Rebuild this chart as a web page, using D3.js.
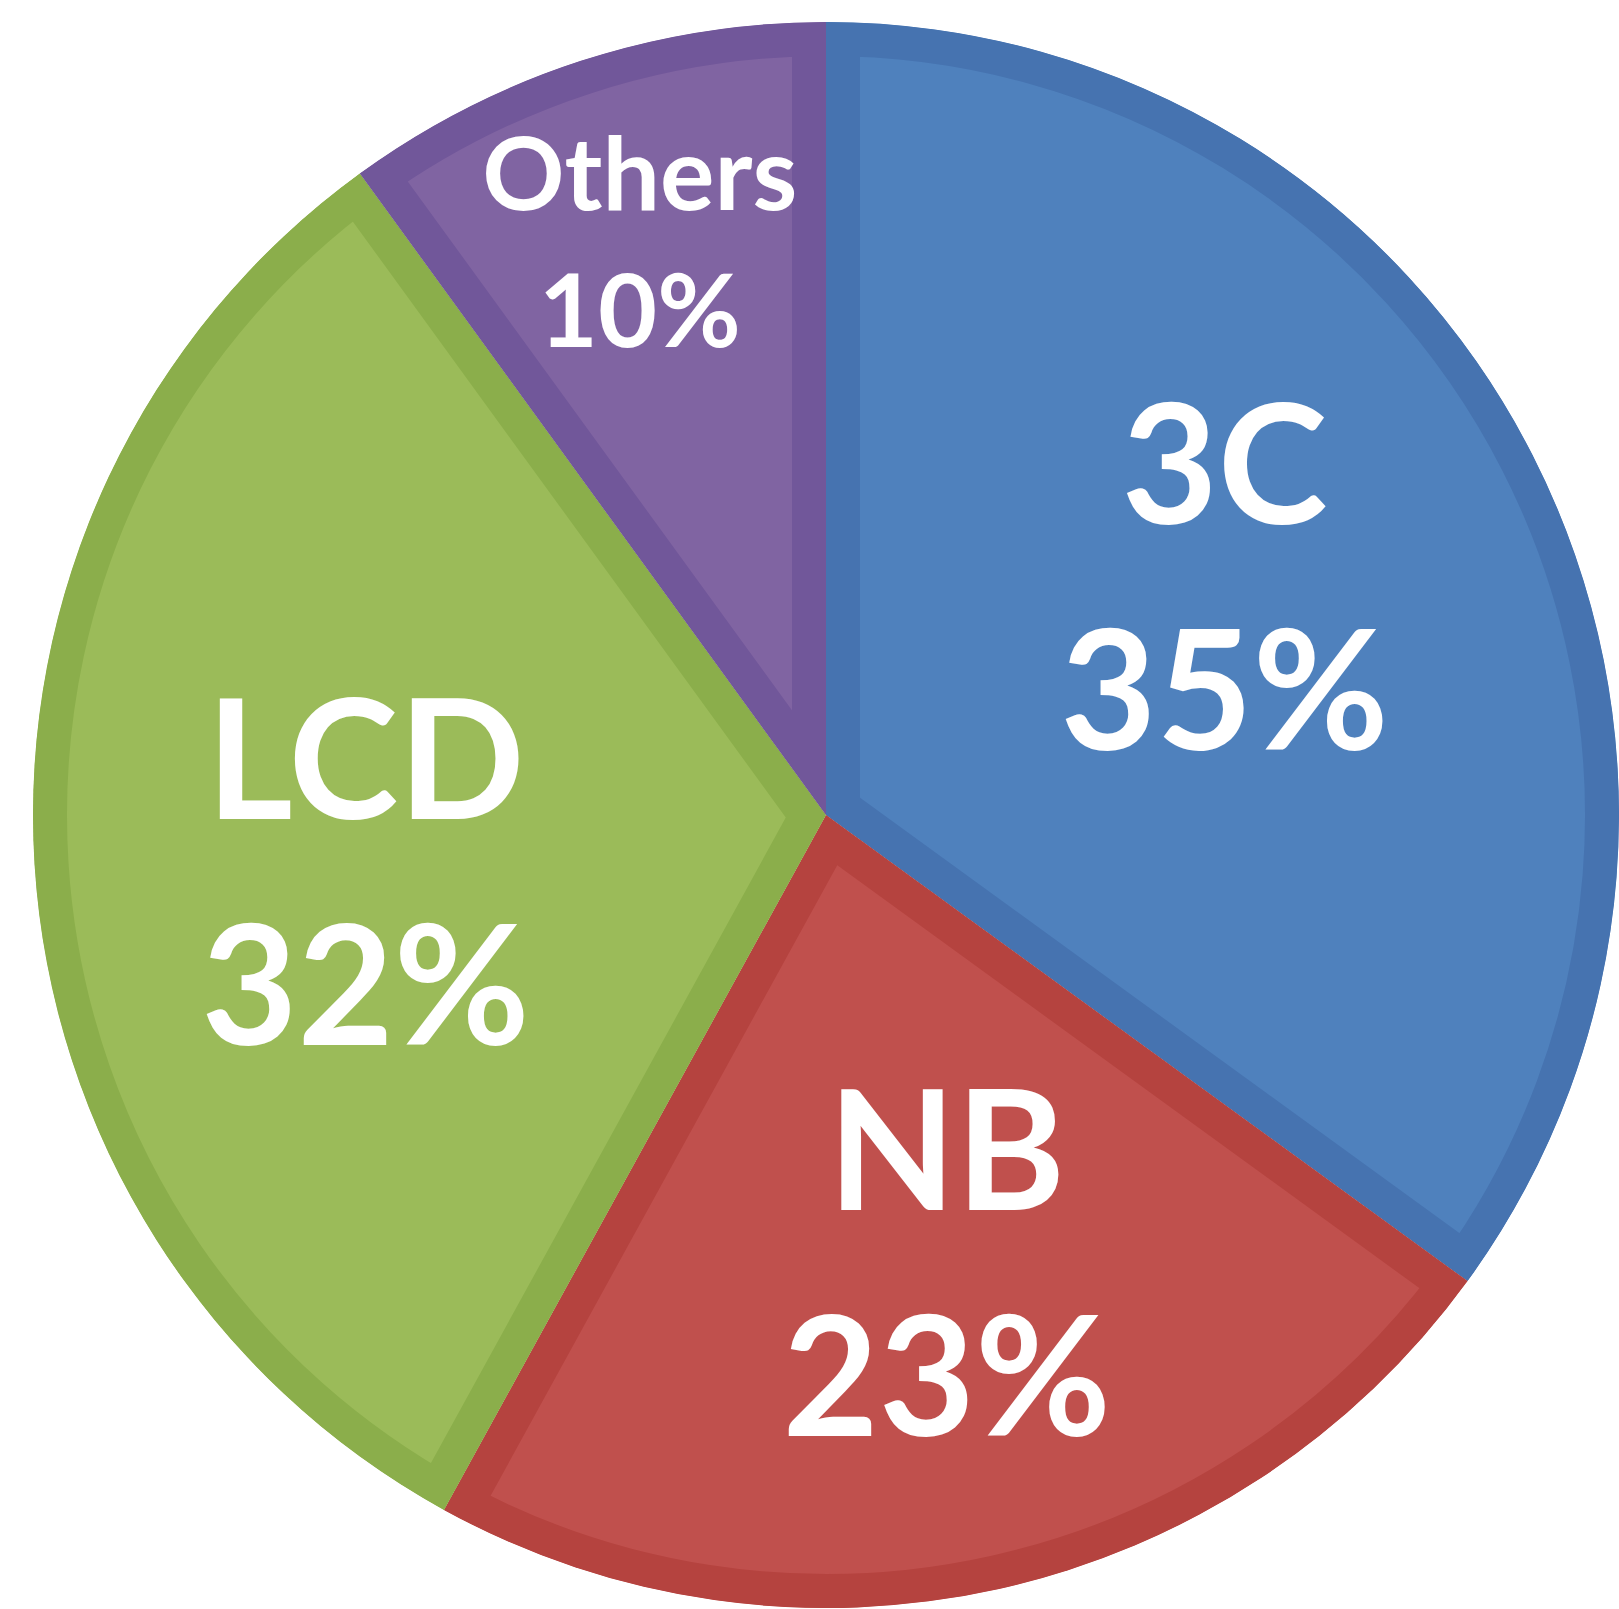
<!DOCTYPE html>
<html>
<head>
<meta charset="utf-8">
<script src="https://cdn.jsdelivr.net/npm/d3@7"></script>
<style>
  body { margin: 0; background: #fff; overflow: hidden; }
  text { font-family: Lato, "Open Sans", sans-serif; font-weight: 700; fill: #fff; }
</style>
</head>
<body>
<script>
// data
var categories = ["3C", "NB", "LCD", "Others"];
var shares = [35, 23, 32, 10];

var fillColors = ["#4f81bd", "#c0504d", "#9bbb59", "#8064a2"];
var edgeColors = ["#4673b0", "#b5433f", "#8bae4b", "#71579a"];

var width = 1619, height = 1609;
var cx = 826, cy = 815, R = 793;

var svg = d3.select("body").append("svg")
    .attr("width", width)
    .attr("height", height);

var pie = d3.pie().sort(null).value(function (d) { return d; });
var arcs = pie(shares);
var arc = d3.arc().innerRadius(0).outerRadius(R);

var defs = svg.append("defs");
var g = svg.append("g").attr("transform", "translate(" + cx + "," + cy + ")");

arcs.forEach(function (d, i) {
    // clip to the slice so the stroke only shows inside (inner darker rim)
    defs.append("clipPath").attr("id", "clip" + i)
        .append("path").attr("d", arc(d));

    g.append("path")
        .attr("d", arc(d))
        .attr("clip-path", "url(#clip" + i + ")")
        .style("fill", fillColors[i])
        .style("stroke", edgeColors[i])
        .style("stroke-width", 68)
        .style("stroke-linejoin", "miter");
});

// labels: two lines, a bit before the middle of each slice
arcs.forEach(function (d, i) {
    var small = (d.endAngle - d.startAngle) < 0.8;
    var r = small ? R * 0.76 : R * 0.585;
    var a = small ? (d.startAngle + d.endAngle) / 2
                  : d.startAngle + 0.47 * (d.endAngle - d.startAngle);
    var p = [r * Math.sin(a), -r * Math.cos(a)];
    var size = small ? 102 : 166;
    var gap = small ? 137 : 226;
    var cap = size * 0.72;

    var t = g.append("text")
        .attr("text-anchor", "middle")
        .style("font-size", size + "px");
    t.append("tspan")
        .attr("x", p[0])
        .attr("y", p[1] - gap / 2 + cap / 2)
        .text(categories[i]);
    t.append("tspan")
        .attr("x", p[0])
        .attr("y", p[1] + gap / 2 + cap / 2)
        .text(shares[i] + "%");
});
</script>
</body>
</html>
